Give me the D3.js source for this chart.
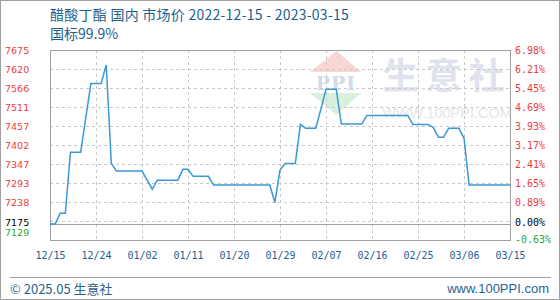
<!DOCTYPE html>
<html>
<head>
<meta charset="utf-8">
<script src="https://cdn.jsdelivr.net/npm/d3@7"></script>
<style>
  html, body { margin: 0; padding: 0; background: #fff; }
  svg { display: block; }
</style>
</head>
<body>
<svg id="chart" width="560" height="300"></svg>
<script>
// Daily market price of butyl acetate, 2022-12-15 .. 2023-03-15 (yuan/ton)
const startDate = "2022-12-15";
const prices = [
  7175, 7175, 7206, 7206, 7381, 7381, 7381, 7480, 7579, 7579,
  7579, 7632, 7349, 7327, 7327, 7327, 7327, 7327, 7327, 7301,
  7275, 7301, 7301, 7301, 7301, 7301, 7332, 7332, 7312, 7312,
  7312, 7312, 7287, 7287, 7287, 7287, 7287, 7287, 7287, 7287,
  7287, 7287, 7287, 7287, 7237, 7330, 7349, 7349, 7349, 7461,
  7450, 7450, 7450, 7505, 7562, 7562, 7562, 7462, 7462, 7462,
  7462, 7462, 7487, 7487, 7487, 7487, 7487, 7487, 7487, 7487,
  7487, 7461, 7461, 7461, 7461, 7452, 7424, 7424, 7450, 7450,
  7450, 7422, 7287, 7287, 7287, 7287, 7287, 7287, 7287, 7287,
  7287
];

// Axis annotations
const xTickDates = ["2022-12-15", "2022-12-24", "2023-01-02", "2023-01-11", "2023-01-20",
                    "2023-01-29", "2023-02-07", "2023-02-16", "2023-02-25", "2023-03-06", "2023-03-15"];
const xTickLabels = ["12/15", "12/24", "01/02", "01/11", "01/20", "01/29", "02/07", "02/16", "02/25", "03/06", "03/15"];
const priceTickLabels = ["7675", "7620", "7566", "7511", "7457", "7402", "7347", "7293", "7238"];
const pctTickLabels = ["6.98%", "6.21%", "5.45%", "4.69%", "3.93%", "3.17%", "2.41%", "1.65%", "0.89%"];
const basePrice = 7175, baseLabel = "7175", basePct = "0.00%";
const minPrice = 7129, minLabel = "7129", minPct = "-0.63%";
const maxPrice = 7675;

const titleLine1 = "醋酸丁酯 国内 市场价 2022-12-15 - 2023-03-15";
const titleLine2 = "国标99.9%";

const svg = d3.select("#chart");
const W = 560, H = 300;
const plot = { left: 50, right: 510, top: 50, bottom: 240 };

const parse = d3.timeParse("%Y-%m-%d");
const t0 = parse(startDate);
const series = prices.map((v, i) => ({ date: d3.timeDay.offset(t0, i), value: v }));

const x = d3.scaleTime()
  .domain([t0, parse(xTickDates[xTickDates.length - 1])])
  .range([plot.left, plot.right]);
const y = d3.scaleLinear()
  .domain([minPrice, maxPrice])
  .range([plot.bottom, plot.top]);

// outer border
svg.append("rect")
  .attr("x", 0.5).attr("y", 0.5).attr("width", W - 1).attr("height", H - 1)
  .attr("fill", "#fff").attr("stroke", "#a0a0a0");

// titles
const titleColor = "#1d5f8e";
svg.append("text").attr("x", 50).attr("y", 20)
  .attr("font-family", "'Noto Sans CJK SC', sans-serif").attr("font-size", 14)
  .attr("letter-spacing", 0.25)
  .attr("fill", titleColor).text(titleLine1);
svg.append("text").attr("x", 50).attr("y", 39)
  .attr("font-family", "'Noto Sans CJK SC', sans-serif").attr("font-size", 14)
  .attr("fill", titleColor).text(titleLine2);

// watermark
const wm = svg.append("g");
wm.append("path")
  .attr("d", "M310,72 L336.5,51 L361,72 Z").attr("fill", "#f7d6d3");
wm.append("text").attr("x", 336).attr("y", 90).attr("text-anchor", "middle")
  .attr("font-family", "'DejaVu Serif', serif").attr("font-weight", "bold")
  .attr("font-size", 19).attr("letter-spacing", 1).attr("fill", "#d3daea").text("PPI");
wm.append("path")
  .attr("d", "M310,93 L361,93 L336.5,115 Z").attr("fill", "#dbf0dc");
wm.append("text").attr("x", 447).attr("y", 73).attr("text-anchor", "middle")
  .attr("dominant-baseline", "central")
  .attr("font-family", "'Noto Sans CJK SC', sans-serif").attr("font-weight", "bold")
  .attr("font-size", 36).attr("letter-spacing", 7).attr("fill", "#dfe3ee").text("生意社");
wm.append("text").attr("x", 447).attr("y", 118).attr("text-anchor", "middle")
  .attr("font-family", "'Liberation Sans', Arial, sans-serif")
  .attr("font-size", 14.5).attr("fill", "#e6e6e6").text("WWW.100PPI.COM");

// grid
const gridVals = d3.range(0, 11).map(i => minPrice + i * (maxPrice - minPrice) / 10);
const grid = svg.append("g").attr("stroke", "#c8c8c8").attr("stroke-dasharray", "3,3");
grid.selectAll("line.h").data(gridVals.slice(1, 10)).join("line")
  .attr("x1", plot.left).attr("x2", plot.right)
  .attr("y1", d => Math.round(y(d)) + 0.5).attr("y2", d => Math.round(y(d)) + 0.5);
grid.selectAll("line.v").data(xTickDates.slice(1, -1)).join("line")
  .attr("y1", plot.top).attr("y2", plot.bottom)
  .attr("x1", d => Math.round(x(parse(d))) + 0.5).attr("x2", d => Math.round(x(parse(d))) + 0.5);

// base line (0%)
svg.append("line")
  .attr("x1", plot.left).attr("x2", plot.right)
  .attr("y1", Math.round(y(basePrice)) + 0.5).attr("y2", Math.round(y(basePrice)) + 0.5)
  .attr("stroke", "#a0a0a0");

// frame
svg.append("rect")
  .attr("x", plot.left + 0.5).attr("y", plot.top + 0.5)
  .attr("width", plot.right - plot.left).attr("height", plot.bottom - plot.top)
  .attr("fill", "none").attr("stroke", "#a0a0a0");

// price line
svg.append("path").datum(series)
  .attr("fill", "none").attr("stroke", "#3a98d6").attr("stroke-width", 1.5)
  .attr("d", d3.line().x(d => x(d.date)).y(d => y(d.value)));

// left axis labels
const red = "#f03c3c", green = "#2ea82e";
const leftFont = "'DejaVu Sans', Verdana, sans-serif";
const monoFont = "'DejaVu Sans Mono', monospace";
const priceTicks = gridVals.slice(2).reverse();
svg.append("g").selectAll("text").data(priceTickLabels).join("text")
  .attr("x", 5).attr("y", (d, i) => y(priceTicks[i]))
  .attr("dominant-baseline", "central")
  .attr("font-family", leftFont).attr("font-size", 9.5).attr("fill", red).text(d => d);
svg.append("text").attr("x", 5).attr("y", y(basePrice) - 1.5).attr("dominant-baseline", "central")
  .attr("font-family", leftFont).attr("font-size", 9.5).attr("fill", "#000").text(baseLabel);
svg.append("text").attr("x", 5).attr("y", y(minPrice) - 8).attr("dominant-baseline", "central")
  .attr("font-family", leftFont).attr("font-size", 9.5).attr("fill", green).text(minLabel);

// right axis labels
svg.append("g").selectAll("text").data(pctTickLabels).join("text")
  .attr("x", 515).attr("y", (d, i) => y(priceTicks[i]))
  .attr("dominant-baseline", "central")
  .attr("font-family", monoFont).attr("font-size", 10).attr("fill", red).text(d => d);
svg.append("text").attr("x", 515).attr("y", y(basePrice) - 1).attr("dominant-baseline", "central")
  .attr("font-family", monoFont).attr("font-size", 10).attr("fill", "#000").text(basePct);
svg.append("text").attr("x", 515).attr("y", y(minPrice) - 1).attr("dominant-baseline", "central")
  .attr("font-family", monoFont).attr("font-size", 10).attr("fill", green).text(minPct);

// x axis labels
const xAxis = d3.axisBottom(x)
  .tickValues(xTickDates.map(parse))
  .tickFormat((d, i) => xTickLabels[i])
  .tickSize(0).tickPadding(12);
const gx = svg.append("g").attr("transform", `translate(0,${plot.bottom})`).call(xAxis);
gx.select(".domain").remove();
gx.selectAll("text").attr("font-family", monoFont).attr("font-size", 10).attr("fill", titleColor);

// footer
svg.append("line").attr("x1", 10).attr("x2", 551).attr("y1", 277.5).attr("y2", 277.5)
  .attr("stroke", "#a0a0a0");
svg.append("text").attr("x", 10).attr("y", 288).attr("dominant-baseline", "central")
  .attr("font-family", "'Noto Sans CJK SC', sans-serif").attr("font-size", 13)
  .attr("fill", "#2a6390").text("© 2025.05 生意社");
svg.append("text").attr("x", 549).attr("y", 288).attr("dominant-baseline", "central")
  .attr("text-anchor", "end")
  .attr("font-family", "'Liberation Sans', Arial, sans-serif").attr("font-size", 13)
  .attr("fill", "#2a6390").text("www.100PPI.com");
</script>
</body>
</html>
